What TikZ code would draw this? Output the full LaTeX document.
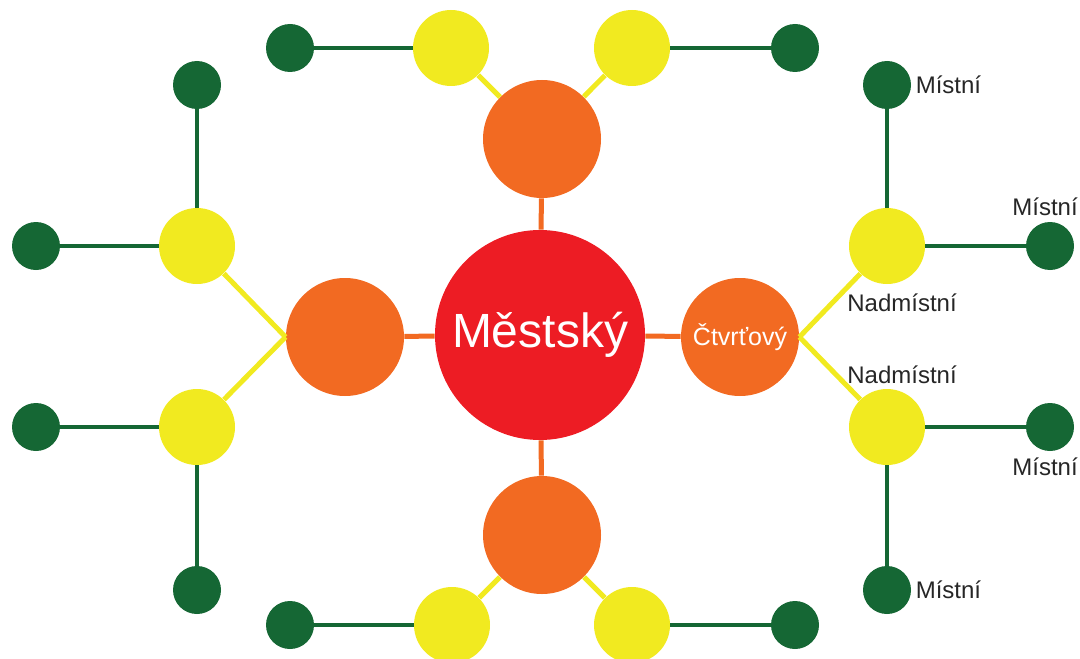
\documentclass[tikz,border=0pt]{standalone}
\usepackage{fontspec}
\setmainfont{Liberation Sans}
\usepackage{tikz}
\usepackage{xcolor}
\definecolor{mred}{HTML}{ED1C24}
\definecolor{morange}{HTML}{F26A22}
\definecolor{myellow}{HTML}{F1EA20}
\definecolor{mgreen}{HTML}{156734}

\begin{document}
\begin{tikzpicture}[
    x=0.5pt, y=-0.5pt,
    every node/.style={font=\fontsize{12}{14}\selectfont, text=black!85},
    city/.style={circle, fill=mred, inner sep=0pt, minimum size=105pt},
    quarter/.style={circle, fill=morange, inner sep=0pt, minimum size=59pt},
    supra/.style={circle, fill=myellow, inner sep=0pt, minimum size=38pt},
    local/.style={circle, fill=mgreen, inner sep=0pt, minimum size=24pt},
    olink/.style={morange, line width=2.5pt},
    ylink/.style={myellow, line width=2.5pt},
    glink/.style={mgreen, line width=2pt}
]
\useasboundingbox (0,0) rectangle (1080,658);
%====================================================
% CENTRE
%====================================================
\node[city, text=white, font=\fontsize{24}{28}\selectfont] (M) at (540,335) {Městský};
\node[quarter] (ot) at (542,139) {};
\node[quarter] (ob) at (542,535) {};
\node[quarter] (ol) at (345,337) {};
\node[quarter, text=white, font=\fontsize{12.5}{14}\selectfont] (or) at (740,337) {Čtvrťový};
\foreach \o in {ot,ob,ol,or}
{
    \draw[olink] (M) -- (\o);
}

%====================================================
% TOP / BOTTOM
%====================================================
\node[supra] (yt1) at (451,48) {};
\node[supra] (yt2) at (632,48) {};
\node[supra] (yb1) at (452,625) {};
\node[supra] (yb2) at (632,625) {};
\node[local] (gt1) at (290,48) {};
\node[local] (gt2) at (795,48) {};
\node[local] (gb1) at (290,625) {};
\node[local] (gb2) at (795,625) {};
\draw[ylink] (yt1) -- (ot);
\draw[ylink] (yt2) -- (ot);
\draw[ylink] (yb1) -- (ob);
\draw[ylink] (yb2) -- (ob);
\draw[glink] (gt1) -- (yt1);
\draw[glink] (gt2) -- (yt2);
\draw[glink] (gb1) -- (yb1);
\draw[glink] (gb2) -- (yb2);

%====================================================
% LEFT
%====================================================
\node[supra] (yl1) at (197,246) {};
\node[supra] (yl2) at (197,427) {};
\node[local] (gl1) at (36,246) {};
\node[local] (gl2) at (36,427) {};
\node[local] (gl3) at (197,85) {};
\node[local] (gl4) at (197,590) {};
\draw[ylink] (yl1) -- (ol.west);
\draw[ylink] (yl2) -- (ol.west);
\draw[glink] (gl1) -- (yl1);
\draw[glink] (gl2) -- (yl2);
\draw[glink] (gl3) -- (yl1);
\draw[glink] (gl4) -- (yl2);

%====================================================
% RIGHT
%====================================================
\node[supra] (yr1) at (887,246) {};
\node[supra] (yr2) at (887,427) {};
\node[local] (gr1) at (1050,246) {};
\node[local] (gr2) at (1050,427) {};
\node[local] (gr3) at (887,85) {};
\node[local] (gr4) at (887,590) {};
\draw[ylink] (yr1) -- (or.east);
\draw[ylink] (yr2) -- (or.east);
\draw[glink] (gr1) -- (yr1);
\draw[glink] (gr2) -- (yr2);
\draw[glink] (gr3) -- (yr1);
\draw[glink] (gr4) -- (yr2);
\node[anchor=west, inner sep=2pt] (lr3) at (gr3.east) {Místní};
\node[anchor=west, inner sep=2pt] (lr4) at (gr4.east) {Místní};
\node (lr1) at (1045,207) {Místní};
\node (lr2) at (1045,467) {Místní};
\node (ln1) at (902,303) {Nadmístní};
\node (ln2) at (902,375) {Nadmístní};
\end{tikzpicture}
\end{document}
